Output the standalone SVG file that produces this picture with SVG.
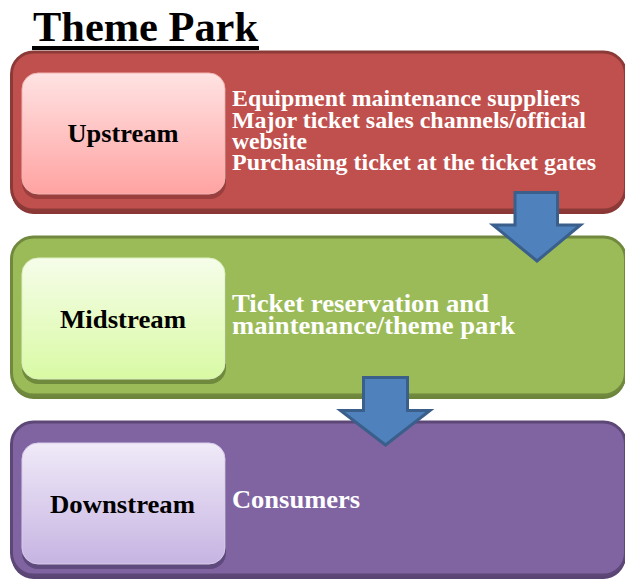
<svg xmlns="http://www.w3.org/2000/svg" width="625" height="579" viewBox="0 0 625 579">
  <defs>
    <linearGradient id="gUp" x1="0" y1="0" x2="0" y2="1">
      <stop offset="0" stop-color="#FFE3E3"/>
      <stop offset="1" stop-color="#FFA3A2"/>
    </linearGradient>
    <linearGradient id="gMid" x1="0" y1="0" x2="0" y2="1">
      <stop offset="0" stop-color="#F6FDEA"/>
      <stop offset="1" stop-color="#D9FAA4"/>
    </linearGradient>
    <linearGradient id="gDown" x1="0" y1="0" x2="0" y2="1">
      <stop offset="0" stop-color="#F0EAF8"/>
      <stop offset="1" stop-color="#C6B4E2"/>
    </linearGradient>
  </defs>
  <style>
    text { font-family: "Liberation Serif", "Times New Roman", serif; font-weight: bold; }
    .title { font-size: 42px; fill: #000000; }
    .label { font-size: 26px; fill: #000000; text-anchor: middle; }
    .desc { font-size: 24px; fill: #FFFFFF; }
    .desc2 { font-size: 26px; fill: #FFFFFF; }
    .outer { stroke-width: 3; }
    .arrow { fill: #4F81BD; stroke: #3A5F8B; stroke-width: 3; stroke-linejoin: miter; }
  </style>

  <!-- heading -->
  <g id="title">
    <text class="title" x="33" y="41" textLength="225" lengthAdjust="spacingAndGlyphs">Theme Park</text>
    <rect x="32" y="46" width="227" height="4" fill="#000000"/>
  </g>

  <!-- upstream tier -->
  <g id="upstream">
    <rect x="11.5" y="55" width="614" height="159" rx="22" fill="#8A3735"/>
    <rect class="outer" x="11.5" y="52" width="614" height="158" rx="22" fill="#C0504D" stroke="#8C3A38"/>
    <rect x="22" y="78" width="204" height="121" rx="16" fill="#9A3F3D"/>
    <rect x="22" y="73" width="203" height="121" rx="16" fill="url(#gUp)" stroke="#F0B3B2" stroke-width="1"/>
    <text class="label" x="123" y="142" textLength="111" lengthAdjust="spacingAndGlyphs">Upstream</text>
    <text class="desc" x="232" y="106" textLength="348" lengthAdjust="spacingAndGlyphs">Equipment maintenance suppliers</text>
    <text class="desc" x="232" y="127.5" textLength="354" lengthAdjust="spacingAndGlyphs">Major ticket sales channels/official</text>
    <text class="desc" x="232" y="148.5" textLength="75" lengthAdjust="spacingAndGlyphs">website</text>
    <text class="desc" x="232" y="169.5" textLength="364" lengthAdjust="spacingAndGlyphs">Purchasing ticket at the ticket gates</text>
  </g>

  <!-- midstream tier -->
  <g id="midstream">
    <rect x="11.5" y="240" width="614" height="159" rx="22" fill="#6C853A"/>
    <rect class="outer" x="11.5" y="237" width="614" height="158" rx="22" fill="#9BBB59" stroke="#71893F"/>
    <rect x="22" y="263" width="204" height="121" rx="16" fill="#6F8A3C"/>
    <rect x="22" y="258" width="203" height="121" rx="16" fill="url(#gMid)" stroke="#DDEFC0" stroke-width="1"/>
    <text class="label" x="123" y="328" textLength="126" lengthAdjust="spacingAndGlyphs">Midstream</text>
    <text class="desc2" x="232" y="312" textLength="257" lengthAdjust="spacingAndGlyphs">Ticket reservation and</text>
    <text class="desc2" x="232" y="333.5" textLength="283" lengthAdjust="spacingAndGlyphs">maintenance/theme park</text>
  </g>

  <!-- downstream tier -->
  <g id="downstream">
    <rect x="11.5" y="425" width="614" height="154" rx="22" fill="#594473"/>
    <rect class="outer" x="11.5" y="422" width="614" height="153" rx="22" fill="#8064A2" stroke="#5C4776"/>
    <rect x="22" y="448" width="204" height="121" rx="16" fill="#5E4A7C"/>
    <rect x="22" y="443" width="203" height="121" rx="16" fill="url(#gDown)" stroke="#D8CCEA" stroke-width="1"/>
    <text class="label" x="122.5" y="513" textLength="145" lengthAdjust="spacingAndGlyphs">Downstream</text>
    <text class="desc2" x="232" y="508" textLength="128" lengthAdjust="spacingAndGlyphs">Consumers</text>
  </g>

  <!-- block arrows between tiers -->
  <g id="connectors">
    <path class="arrow" d="M515,192.5 H557.5 V225 H580.5 L537,261 L493,225 H515 Z"/>
    <path class="arrow" d="M363.5,377.5 H407.5 V410.5 H430 L385.5,445 L340.5,410.5 H363.5 Z"/>
  </g>
</svg>
